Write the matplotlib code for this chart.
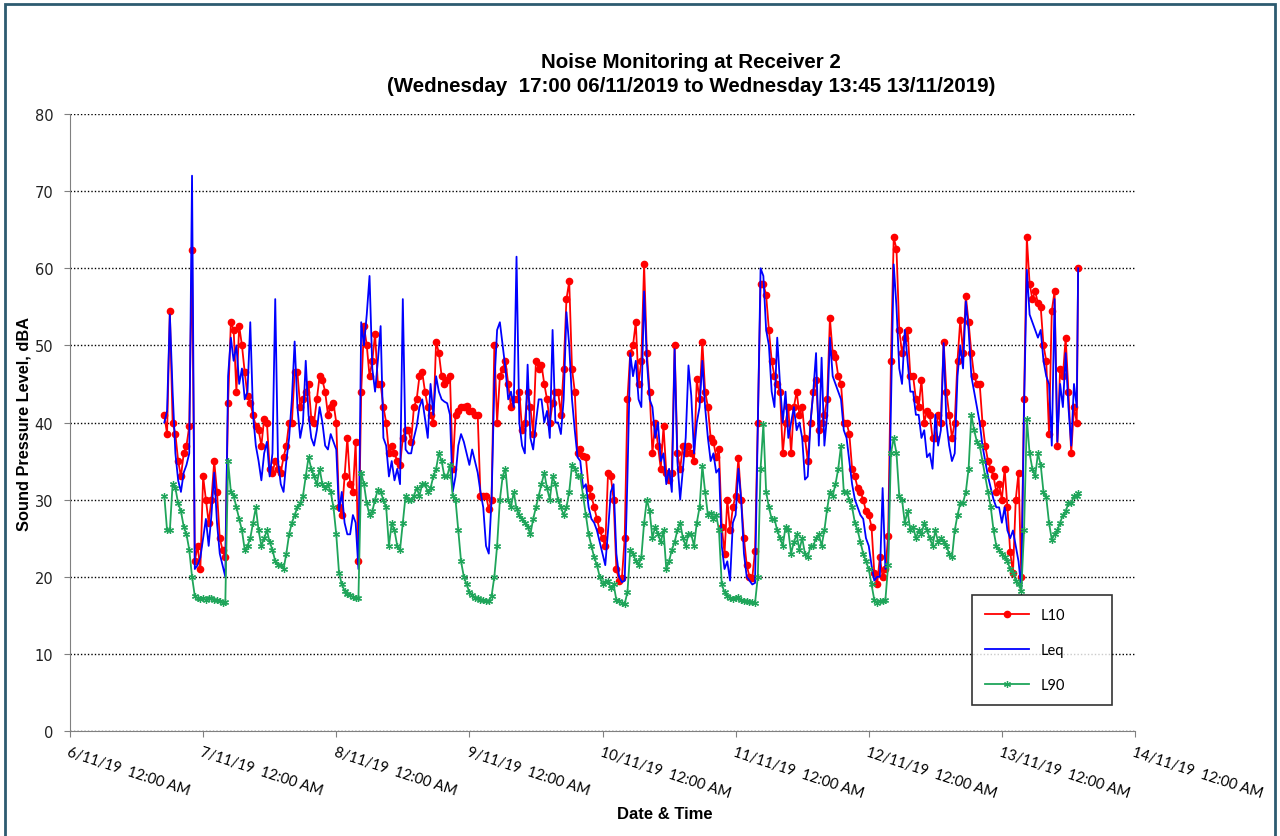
import numpy as np
import pandas as pd
import matplotlib
matplotlib.use("Agg")
import matplotlib.pyplot as plt
import matplotlib.dates as mdates
from matplotlib.patches import Rectangle
from matplotlib.ticker import FuncFormatter, MultipleLocator

# half-hourly readings from 17:00 06/11/2019, last sample 13:45 13/11/2019
l10 = [41, 38.5, 54.5, 40, 38.5, 35, 33, 36,
       37, 39.5, 62.4, 22, 24, 21, 33, 30,
       27, 30, 35, 31, 25, 23.5, 22.5, 42.5,
       53, 52, 44, 52.5, 50, 46.5, 43.5, 42.5,
       41, 39.5, 39, 37, 40.5, 40, 34, 33.5,
       35, 34, 33.5, 35.5, 37, 40, 40, 46.5,
       46.5, 42, 43, 44, 45, 40.5, 40, 43,
       46, 45.5, 44, 41, 42, 42.5, 40, 29,
       28, 33, 38, 32, 31, 37.5, 22, 44,
       52.5, 50, 46, 48, 51.5, 45, 45, 42,
       40, 36, 37, 36, 35, 34.5, 38, 39,
       39, 37.5, 42, 43, 46, 46.5, 44, 42,
       41, 40, 50.5, 49, 46, 45, 45.5, 46,
       34, 41, 41.5, 42, 42, 42.2, 41.5, 41.5,
       41, 41, 30.5, 30.5, 30.5, 28.8, 30, 50,
       40, 46, 47, 48, 45, 42, 43, 43,
       44, 39, 40, 44, 42, 38.5, 48, 47,
       47.5, 45, 43, 40, 42.5, 44, 44, 41,
       47, 56, 58.3, 47, 44, 36, 36.5, 35.6,
       35.5, 31.5, 30.5, 29, 27.5, 26, 25, 24,
       33.5, 33, 30, 21, 19.5, 19.8, 25, 43,
       49, 50, 53, 45, 48, 60.5, 49, 44,
       36, 40, 37, 34, 39.5, 33.5, 32.6, 33.5,
       50, 36, 34, 37, 36, 37, 36, 35,
       45.6, 43, 50.5, 44, 42, 38, 37.5, 35.5,
       36.5, 26.5, 23, 30, 26, 29, 30.5, 35.4,
       30, 25, 21.5, 20, 19.8, 23.4, 40, 58,
       58, 56.5, 52, 48, 46, 45, 44, 36,
       40, 42, 36, 42, 44, 41, 42, 38,
       35, 40, 44, 45.5, 39, 40, 41, 43,
       53.5, 49, 48.5, 46, 45, 40, 40, 38.5,
       34, 33, 31.5, 31, 30, 28.5, 28, 26.5,
       20.5, 19, 22.5, 20, 21, 25.3, 48, 64,
       62.5, 52, 49, 51, 52, 46, 46, 43,
       42, 45.5, 40, 41.5, 41, 38, 38, 41,
       40, 50.5, 44, 41, 38, 40, 48, 53.3,
       49, 56.4, 53, 49, 46, 45, 45, 40,
       37, 35, 34, 33, 31, 32, 30, 34,
       29, 23.2, 20.5, 30, 33.5, 20, 43, 64,
       58, 56, 57, 55.5, 55, 50, 48, 38.5,
       54.5, 57, 37, 47, 46, 51, 44, 36,
       42, 40, 60]
leq = [40, 41.5, 54, 44, 36, 32.5, 31, 33.5,
       34.5, 36, 72, 21, 21.5, 22.5, 25, 27.5,
       24, 28, 33.5, 27, 23, 21.5, 20, 46,
       51, 48, 50, 45, 47, 43, 44, 53,
       41, 37, 35, 32.5, 36, 37.5, 33, 36,
       56, 35, 32, 31, 35, 38, 43, 50.5,
       42, 38, 40, 48, 41, 38, 37, 39,
       42, 40, 37, 36.5, 38.5, 37.5, 36.5, 28.5,
       31, 27, 25.5, 25.5, 28, 27, 21, 53,
       50, 54, 59, 47, 44, 48, 52.5, 38,
       37, 33, 35, 32.5, 34, 32, 56, 36.5,
       36, 36, 38, 39.5, 42, 43, 40.5, 38,
       45, 41, 46, 44, 43, 42.7, 42.5, 41,
       31, 33, 37, 38.5, 37.5, 36, 34.5, 36.5,
       35, 33.5, 31, 29, 24, 23, 30, 45,
       52, 53, 50, 47, 43, 44, 42, 61.5,
       40, 37, 36, 47.5, 38, 36.5, 40, 43,
       43, 40, 41.5, 38, 52, 40, 40, 38.5,
       43, 54.3, 50, 43, 39, 35.5, 35, 31.5,
       32, 29, 27.5, 27, 26, 24.5, 23, 21.5,
       26, 31, 32, 23, 20, 19.3, 19.5, 33,
       49, 46, 48, 43, 42, 57, 48, 43,
       42, 38, 40, 35, 36, 32, 34, 31,
       49.5, 35, 30, 34, 38, 47.4, 43.5, 36,
       40, 42, 48, 42, 38, 35, 36, 33.5,
       34, 24, 21, 22, 19.5, 27, 28, 34,
       30, 23, 20, 19.5, 19, 19.2, 40, 60,
       59, 52, 50, 44, 42, 51, 45, 40,
       44, 38, 40, 42, 39, 40, 38, 32.6,
       33, 40, 44, 49, 37, 48.4, 37, 41,
       51, 46, 45, 44, 43, 39, 38, 35,
       32, 30, 29, 28, 27.5, 25, 24, 21.5,
       19.5, 20, 20, 31.5, 21, 22, 42, 60.5,
       55, 47, 45, 52, 48, 44, 44, 41,
       41, 38, 39, 35.5, 36, 34, 41, 37,
       39, 50.3, 40, 37, 35, 36, 46, 50,
       47, 55.7, 52, 46, 44, 42, 40, 37,
       35, 33, 31.5, 30, 29, 29, 27, 29,
       26, 25, 26, 24, 22, 18.5, 42, 59.8,
       54, 53, 52, 51, 52, 48, 46, 45,
       37, 56, 37.5, 45, 42, 49, 42, 37,
       45, 42, 60]
l90 = [30.5, 26, 26, 32, 31.5, 29.5, 28.5, 26.5,
       25.5, 23.5, 20, 17.5, 17.2, 17.1, 17.3, 17.0,
       17.2, 17.3, 17.0, 17.0, 16.8, 16.6, 16.7, 35,
       31, 30.5, 29, 27.5, 26, 23.5, 24, 25,
       27, 29, 26, 24, 25, 26, 24.5, 23.5,
       22, 21.5, 21.5, 21, 23, 25.5, 27, 28,
       29, 29.5, 30.5, 33, 35.5, 34, 33, 32,
       34, 32, 31.5, 32, 31, 29, 25.5, 20.5,
       19, 18.2, 17.8, 17.6, 17.4, 17.3, 17.3, 33.5,
       32, 29.5, 28, 28.5, 30, 31.3, 31, 30,
       29, 24, 27, 26, 24, 23.5, 27, 30.5,
       30, 30, 30.5, 31.5, 30.5, 32, 32, 31,
       31.5, 33, 34, 36, 35, 33, 33, 34.5,
       30.5, 30, 26, 22, 20, 19, 18, 17.6,
       17.2, 17.2, 17, 17, 16.8, 16.8, 17.5, 20,
       24, 30, 33, 34, 30, 29, 31, 28.8,
       28, 27.5, 27, 26.5, 25.5, 27.5, 29, 30.5,
       32, 33.5, 31.5, 30, 33, 32, 30, 29,
       28, 29, 31, 34.5, 34, 33, 33, 30.5,
       28, 25.5, 24, 22.5, 21.5, 20, 19, 19.3,
       19.5, 18.5, 19, 17, 16.8, 16.6, 16.5, 18,
       23.5, 23, 22, 21.5, 22.5, 27, 30, 28.5,
       25, 26.5, 25.5, 24.5, 26, 21, 22, 23.5,
       24.5, 26, 27, 25, 24, 25.5, 25.5, 24,
       27, 29, 34.4, 31, 28, 28.3, 27.5, 28,
       26, 19, 18, 17.5, 17.3, 17.1, 17.2, 17.4,
       17, 16.9, 16.9, 16.7, 16.7, 16.6, 20, 34,
       39.8, 31, 29, 27.5, 27.5, 26, 25, 24,
       26.5, 26, 23, 24.5, 25.5, 23.5, 25, 23,
       22.5, 24, 24, 25, 25.5, 24, 26, 28.8,
       31, 30.5, 32, 34, 37, 31, 31, 30,
       29, 27, 26, 24.5, 23, 22, 21, 19,
       17, 16.6, 16.8, 16.8, 17, 21.5, 36, 38,
       36, 30.5, 30, 27, 28.5, 26, 26.5, 25,
       26, 25.5, 27, 26, 25, 24, 26, 24.5,
       25, 24.5, 24, 23, 22.5, 26, 28, 29.5,
       29.6, 31, 34, 41, 39, 37.5, 37, 35,
       33, 31, 29, 26, 24, 23.5, 23, 22.5,
       22, 21, 20.5, 19.5, 19, 18.2, 26, 40.5,
       36, 34, 33, 36, 34.5, 31, 30.3, 27,
       24.8, 25.5, 26, 27, 28, 28.5, 29.5, 29.5,
       30.5, 30.5, 30.8]

times = list(pd.date_range("2019-11-06 17:00", periods=len(l10) - 1, freq="30min")) \
    + [pd.Timestamp("2019-11-13 13:45")]

fig = plt.figure(figsize=(12.8, 8.37), dpi=100)
ax = fig.add_axes([70 / 1280, 1 - 732 / 837, 1065 / 1280, 617 / 837])

ax.plot(times, l10, color="#FF0000", lw=1.3, marker="o", ms=4.5, label="L10")
ax.plot(times, leq, color="#0000FF", lw=1.3, label="Leq")
ax.plot(times, l90, color="#1FA55A", lw=1.3, marker=(6, 2, 0), ms=5, mew=0.9, label="L90")

ax.set_ylim(0, 80)
ax.yaxis.set_major_locator(MultipleLocator(10))
ax.set_xlim(pd.Timestamp("2019-11-06"), pd.Timestamp("2019-11-14"))
ax.xaxis.set_major_locator(mdates.DayLocator())
ax.xaxis.set_major_formatter(FuncFormatter(
    lambda v, pos: (lambda d: f"{d.day}/{d.month}/{d:%y}  12:00 AM")(mdates.num2date(v))))

ax.grid(axis="y", color="black", linestyle=(0, (1, 1.5)), linewidth=1.0)
ax.set_axisbelow(True)
for s in ["top", "right"]:
    ax.spines[s].set_visible(False)
for s in ["left", "bottom"]:
    ax.spines[s].set_color("#808080")
ax.tick_params(axis="both", colors="#808080", length=4, labelcolor="black")
ax.tick_params(axis="y", labelsize=10.5, pad=8)
for lab in ax.get_yticklabels():
    lab.set_family("DejaVu Sans")
    lab.set_color("#222222")
ax.tick_params(axis="x", labelsize=10.5, pad=6)
for lab in ax.get_xticklabels():
    lab.set_rotation(-18)
    lab.set_ha("left")
    lab.set_va("top")
    lab.set_rotation_mode("anchor")
    lab.set_family("Lato")

ax.set_ylabel("Sound Pressure Level, dBA", fontsize=11.8, fontweight="bold",
              family="Liberation Sans", labelpad=2)
fig.text(665 / 1280, 1 - 815 / 837, "Date & Time", fontsize=12, fontweight="bold",
         family="Liberation Sans", ha="center", va="center")
fig.text(691 / 1280, 1 - 62 / 837, "Noise Monitoring at Receiver 2", fontsize=14.8,
         fontweight="bold", family="Liberation Sans", ha="center", va="center")
fig.text(691 / 1280, 1 - 87 / 837,
         "(Wednesday  17:00 06/11/2019 to Wednesday 13:45 13/11/2019)", fontsize=14.8,
         fontweight="bold", family="Liberation Sans", ha="center", va="center")

leg = ax.legend(loc="lower left", bbox_to_anchor=(0.847, 0.042, 0.131, 0.175), mode="expand",
                frameon=True, fancybox=False, labelspacing=1.45, handlelength=3,
                borderaxespad=0, prop={"family": "Lato", "size": 10.5}, borderpad=0.9)
leg.get_frame().set_edgecolor("black")
leg.get_frame().set_linewidth(1.2)

fig.add_artist(Rectangle((5 / 1280, -0.01), 1270 / 1280, 1.0 - 5 / 837 + 0.01,
                         transform=fig.transFigure, fill=False, edgecolor="#2D5B70", lw=2))

fig.savefig("out.png", dpi=100)
